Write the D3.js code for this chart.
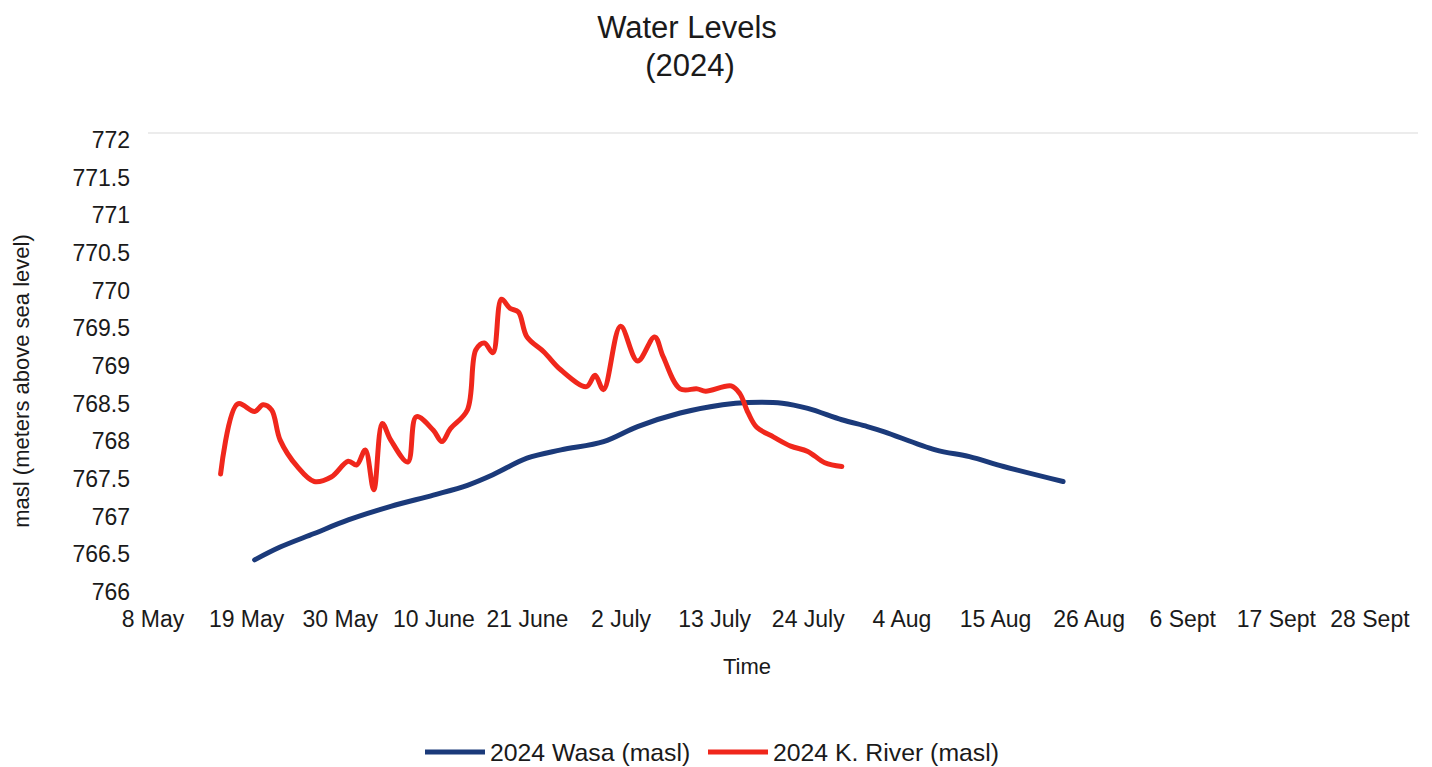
<!DOCTYPE html>
<html>
<head>
<meta charset="utf-8">
<script src="https://cdn.jsdelivr.net/npm/d3@7"></script>
<style>
  html, body { margin: 0; padding: 0; background: #fff; }
  svg { display: block; font-family: "Liberation Sans", Arial, sans-serif; }
</style>
</head>
<body>
<svg id="chart" width="1432" height="767"></svg>
<script>
// ---- data ----
const wasaDates = ["2024-05-20","2024-05-23","2024-05-27","2024-05-31","2024-06-05","2024-06-10","2024-06-14","2024-06-17","2024-06-21","2024-06-25","2024-06-30","2024-07-04","2024-07-09","2024-07-14","2024-07-17","2024-07-21","2024-07-24","2024-07-28","2024-07-31","2024-08-02","2024-08-08","2024-08-12","2024-08-16","2024-08-23"];
const wasaValues = [766.36,766.53,766.71,766.89,767.07,767.22,767.35,767.49,767.71,767.82,767.93,768.13,768.31,768.42,768.45,768.44,768.37,768.22,768.13,768.06,767.82,767.73,767.60,767.40];

const riverDates = ["2024-05-16","2024-05-18","2024-05-20","2024-05-21","2024-05-22","2024-05-23","2024-05-25","2024-05-27","2024-05-29","2024-05-31","2024-06-01","2024-06-02","2024-06-03","2024-06-04","2024-06-05","2024-06-07","2024-06-08","2024-06-10","2024-06-11","2024-06-12","2024-06-14","2024-06-15","2024-06-16","2024-06-17","2024-06-18","2024-06-19","2024-06-20","2024-06-21","2024-06-23","2024-06-25","2024-06-28","2024-06-29","2024-06-30","2024-07-02","2024-07-04","2024-07-06","2024-07-07","2024-07-09","2024-07-11","2024-07-12","2024-07-15","2024-07-16","2024-07-17","2024-07-18","2024-07-20","2024-07-22","2024-07-24","2024-07-26","2024-07-28"];
const riverValues = [767.50,768.43,768.33,768.42,768.35,767.95,767.60,767.40,767.46,767.67,767.62,767.82,767.29,768.17,767.95,767.66,768.26,768.08,767.93,768.10,768.35,769.15,769.24,769.11,769.82,769.70,769.65,769.32,769.12,768.88,768.66,768.81,768.62,769.46,769.00,769.32,769.06,768.63,768.63,768.60,768.67,768.57,768.31,768.12,767.99,767.87,767.80,767.65,767.60];

const xTickDates = ["2024-05-08","2024-05-19","2024-05-30","2024-06-10","2024-06-21","2024-07-02","2024-07-13","2024-07-24","2024-08-04","2024-08-15","2024-08-26","2024-09-06","2024-09-17","2024-09-28"];
const xTickLabels = ["8 May","19 May","30 May","10 June","21 June","2 July","13 July","24 July","4 Aug","15 Aug","26 Aug","6 Sept","17 Sept","28 Sept"];
const yTicks = [766,766.5,767,767.5,768,768.5,769,769.5,770,770.5,771,771.5,772];

const titleLines = ["Water Levels","(2024)"];
const xTitle = "Time";
const yTitle = "masl (meters above sea level)";
const seriesNames = ["2024 Wasa (masl)","2024 K. River (masl)"];
const seriesColors = ["#1b3a7a","#f0271c"];

// ---- setup ----
const parse = d3.utcParse("%Y-%m-%d");
const svg = d3.select("#chart");

const x = d3.scaleUtc()
  .domain([parse("2024-05-08"), parse("2024-10-04")])
  .range([152.5, 1420.5]);
const y = d3.scaleLinear().domain([766, 772]).range([587, 135]);

// gridline at top
svg.append("line")
  .attr("x1", 148).attr("x2", 1418)
  .attr("y1", y(772) - 2).attr("y2", y(772) - 2)
  .attr("stroke", "#ececec").attr("stroke-width", 2);

// y axis
const yAxis = svg.append("g")
  .attr("transform", "translate(130,0)")
  .call(d3.axisLeft(y).tickValues(yTicks).tickSize(0).tickPadding(0).tickFormat(d3.format("")));
yAxis.select(".domain").remove();
yAxis.selectAll("text")
  .attr("font-size", 23).attr("fill", "#1a1a1a")
  .attr("font-family", "Liberation Sans, Arial, sans-serif")
  .attr("dy", "0.55em");

// x axis
const xAxis = svg.append("g")
  .attr("transform", `translate(0,${y(766)})`)
  .call(d3.axisBottom(x)
    .tickValues(xTickDates.map(parse))
    .tickSize(0).tickPadding(24)
    .tickFormat((d, i) => xTickLabels[i]));
xAxis.select(".domain").remove();
xAxis.selectAll("text")
  .attr("font-size", 23).attr("fill", "#1a1a1a")
  .attr("font-family", "Liberation Sans, Arial, sans-serif");

// titles
svg.append("text").attr("x", 687).attr("y", 38).attr("text-anchor", "middle")
  .attr("font-size", 31).attr("fill", "#1a1a1a").text(titleLines[0]);
svg.append("text").attr("x", 690).attr("y", 76).attr("text-anchor", "middle")
  .attr("font-size", 31).attr("fill", "#1a1a1a").text(titleLines[1]);

svg.append("text").attr("x", 747).attr("y", 674).attr("text-anchor", "middle")
  .attr("font-size", 22).attr("fill", "#1a1a1a").text(xTitle);

svg.append("text").attr("transform", "translate(29,381) rotate(-90)")
  .attr("text-anchor", "middle")
  .attr("font-size", 22).attr("fill", "#1a1a1a").text(yTitle);

// lines
const line = d3.line()
  .x(d => x(d.date)).y(d => y(d.value))
  .curve(d3.curveCatmullRom.alpha(0.5));

const wasa = wasaDates.map((d, i) => ({date: parse(d), value: wasaValues[i]}));
const river = riverDates.map((d, i) => ({date: parse(d), value: riverValues[i]}));

svg.append("path").datum(wasa).attr("d", line)
  .attr("fill", "none").attr("stroke", seriesColors[0])
  .attr("stroke-width", 5).attr("stroke-linejoin", "round").attr("stroke-linecap", "round");
svg.append("path").datum(river).attr("d", line)
  .attr("fill", "none").attr("stroke", seriesColors[1])
  .attr("stroke-width", 5).attr("stroke-linejoin", "round").attr("stroke-linecap", "round");

// legend
const legendItems = [
  {x1: 425, x2: 485, tx: 490},
  {x1: 708, x2: 768, tx: 773}
];
legendItems.forEach((it, i) => {
  svg.append("line").attr("x1", it.x1).attr("x2", it.x2)
    .attr("y1", 752).attr("y2", 752)
    .attr("stroke", seriesColors[i]).attr("stroke-width", 5);
  svg.append("text").attr("x", it.tx).attr("y", 761)
    .attr("font-size", 24.8).attr("fill", "#1a1a1a").text(seriesNames[i]);
});
</script>
</body>
</html>
